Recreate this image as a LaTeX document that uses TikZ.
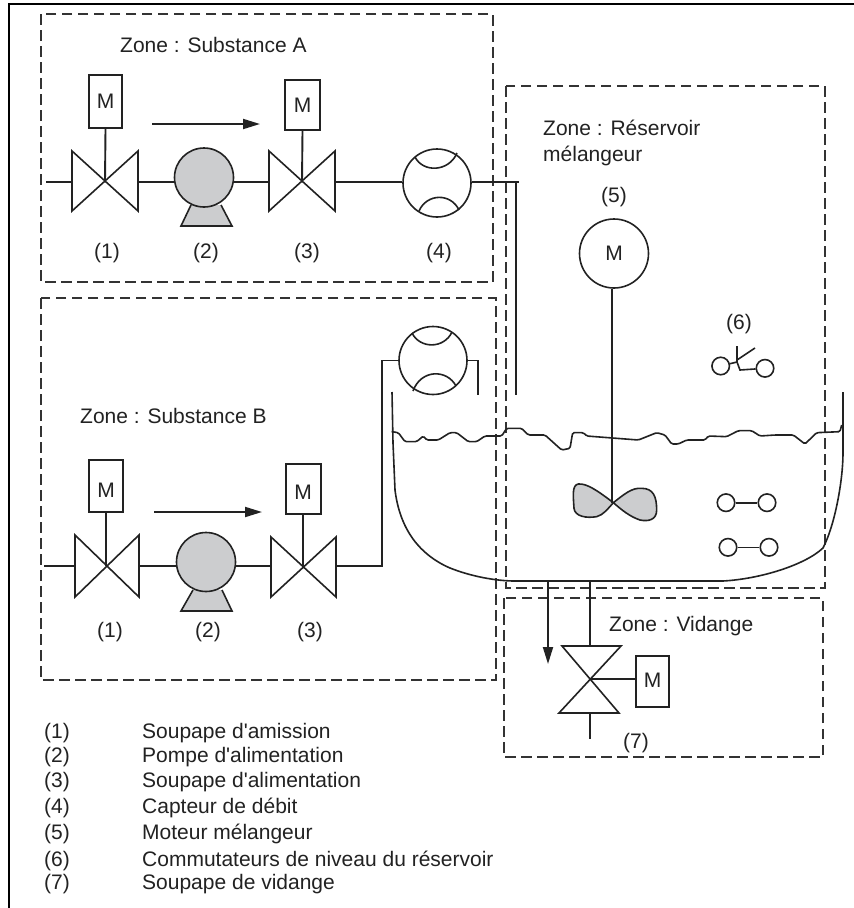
\documentclass[tikz,border=0pt]{standalone}
\usepackage{fontspec}
\setmainfont{Liberation Sans}[Ligatures=TeXOff]
\usetikzlibrary{arrows.meta,calc}
\definecolor{ink}{HTML}{222222}
\definecolor{dashink}{HTML}{333333}
\definecolor{pumpgray}{HTML}{CCCDCF}
\tikzset{
  frame/.style={line width=2.2pt,black},
  zonebox/.style={draw=dashink,line width=2pt,dash pattern=on 10.5pt off 5.5pt},
  pipe/.style={draw=ink,line width=1.9pt},
  valvebody/.style={draw=ink,line width=1.6pt},
  thin line/.style={draw=ink,line width=1.6pt},
  motorbox/.style={draw=ink,line width=2pt,fill=white,rectangle,inner sep=0pt},
  lab/.style={font=\fontsize{21}{24}\selectfont,text=ink,inner sep=0pt,anchor=base},
  labl/.style={lab,anchor=base west},
  pumpbody/.style={draw=ink,line width=1.6pt,fill=pumpgray,circle,inner sep=0pt,minimum size=59pt},
  meter/.style={draw=ink,line width=1.6pt,fill=white,circle,inner sep=0pt,minimum size=68pt},
  contact/.style={draw=ink,line width=1.6pt,fill=white,circle,inner sep=0pt,minimum size=17.5pt},
  flow/.style={draw=ink,line width=1.9pt,-{Triangle[length=17pt,width=10pt]}}
}
\begin{document}
\begin{tikzpicture}[x=1pt,y=-1pt]
\useasboundingbox (0,0) rectangle (854,908);
\fill[white] (0,0) rectangle (854,908);
% frame
\draw[frame] (9,908) -- (9,4) -- (854,4);
% zones
\draw[zonebox] (41,14) rectangle (492.5,282);
\draw[zonebox] (41,298) rectangle (495.5,680);
\draw[zonebox] (506,86) rectangle (824.5,588);
\draw[zonebox] (504,598) rectangle (823,757);
\node[labl] (zA) at (120,52) {Zone : Substance A};
\node[labl] (zB) at (80,423) {Zone : Substance B};
\node[labl] (zR1) at (543,135) {Zone : Réservoir};
\node[labl] (zR2) at (543,161) {mélangeur};
\node[labl] (zV) at (609,631) {Zone : Vidange};

% --- Substance A line
\coordinate (Ain) at (46,182);
\coordinate (Av1) at (105,182);
\coordinate (Av1l) at (72,182);
\coordinate (Av1r) at (138,182);
\coordinate (Av3) at (302,182);
\coordinate (Av3l) at (269,182);
\coordinate (Av3r) at (335,182);
\node[motorbox,minimum width=33pt,minimum height=53pt] (Am1) at (105.5,101.5) {};
\node[lab] (Am1t) at (105.5,108) {M};
\node[motorbox,minimum width=35pt,minimum height=50pt] (Am3) at (302.5,105) {};
\node[lab] (Am3t) at (302.5,112) {M};
\draw[valvebody] (72,151) -- (138,211) -- (138,151) -- (72,211) -- cycle;
\draw[valvebody] (269,151) -- (335,211) -- (335,151) -- (269,211) -- cycle;
\draw[pipe] (Am1.south) -- (Av1);
\draw[pipe] (Am3.south) -- (Av3);
\draw[thin line,fill=pumpgray] (191,205) -- (181,226) -- (232,226) -- (221,205);
\node[pumpbody] (Ap) at (204,177.5) {};
\node[meter] (Afm) at (437,183) {};
\draw[thin line] (415,157) .. controls (423,173) and (449,172) .. (457,153);
\draw[thin line] (419,211) .. controls (427,193) and (451,193) .. (459,210);
\draw[pipe] (Ain) -- (Av1l);
\draw[pipe] (Av1r) -- (Av1r -| Ap.west);
\draw[pipe] (Ap.east |- Av3l) -- (Av3l);
\draw[pipe] (Av3r) -- (Av3r -| Afm.west);
\coordinate (AtoT) at (516,182);
\coordinate (AtoTend) at (516,395);
\coordinate (Astub) at (519,182);
\draw[pipe] (Afm.east |- Av3r) -- (Astub);
\draw[pipe] (AtoT) -- (AtoTend);
\coordinate (Aa0) at (152,124);
\coordinate (Aa1) at (260,124);
\draw[flow] (Aa0) -- (Aa1);
\node[lab] (Al1) at (107,258) {(1)};
\node[lab] (Al2) at (206,258) {(2)};
\node[lab] (Al3) at (307,258) {(3)};
\node[lab] (Al4) at (439,258) {(4)};

% --- Substance B line
\coordinate (Bin) at (44,566);
\coordinate (Bv1) at (106,566);
\coordinate (Bv1l) at (75,566);
\coordinate (Bv1r) at (139,566);
\coordinate (Bv3) at (303,566);
\coordinate (Bv3l) at (271,566);
\coordinate (Bv3r) at (336,566);
\node[motorbox,minimum width=34pt,minimum height=52pt] (Bm1) at (106,486) {};
\node[lab] (Bm1t) at (106,497) {M};
\node[motorbox,minimum width=35pt,minimum height=50pt] (Bm3) at (303,489) {};
\node[lab] (Bm3t) at (303,499) {M};
\draw[valvebody] (75,535) -- (139,597) -- (139,535) -- (75,597) -- cycle;
\draw[valvebody] (271,537) -- (336,597) -- (336,537) -- (271,597) -- cycle;
\draw[pipe] (Bm1.south) -- (Bv1);
\draw[pipe] (Bm3.south) -- (Bv3);
\draw[thin line,fill=pumpgray] (193,590) -- (181,611) -- (232,611) -- (222,590);
\node[pumpbody] (Bp) at (206,562) {};
\node[meter] (Bfm) at (433,360.5) {};
\draw[thin line] (412,333) .. controls (420,349) and (444,349) .. (452,332);
\draw[thin line] (413,391) .. controls (421,369) and (447,369) .. (456,386);
\draw[pipe] (Bin) -- (Bv1l);
\draw[pipe] (Bv1r) -- (Bv1r -| Bp.west);
\draw[pipe] (Bp.east |- Bv3l) -- (Bv3l);
\coordinate (Bup) at (382,566);
\coordinate (Bend) at (478,395);
\draw[pipe] (Bv3r) -- (Bup) |- (Bfm.west);
\draw[pipe] (Bfm.east) -| (Bend);
\coordinate (Ba0) at (154,512);
\coordinate (Ba1) at (262,512);
\draw[flow] (Ba0) -- (Ba1);
\node[lab] (Bl1) at (110,637) {(1)};
\node[lab] (Bl2) at (208,637) {(2)};
\node[lab] (Bl3) at (310,637) {(3)};

% --- Tank
\draw[thin line] (392,392) -- (393,443) -- (395,490) .. controls (400,530) and (420,555) .. (450,568) .. controls (470,576) and (495,581) .. (515,581) -- (723,581) .. controls (760,579) and (805,565) .. (823,548) .. controls (835,525) and (843,480) .. (843,453) -- (843,392);
\begin{scope}[shift={(370,300)},x=0.33333pt,y=-0.33333pt]
\draw[thin line,rounded corners=1.5pt] (65,395) -- (85,398) -- (105,425) -- (140,425) -- (160,408) -- (170,420) -- (205,420) -- (240,398) -- (260,398) -- (295,425) -- (320,425) -- (345,408) -- (395,408) -- (410,385) -- (455,385) -- (475,405) -- (525,405) -- (575,450) -- (600,445) -- (608,398) -- (640,398) -- (650,408) -- (805,420) -- (860,398) -- (885,405) -- (905,432) -- (925,432) -- (950,420) -- (1005,420) -- (1015,408) -- (1070,410) -- (1105,392) -- (1145,392) -- (1170,408) -- (1215,405) -- (1270,405) -- (1305,432) -- (1340,398) -- (1410,395) -- (1415,375);
\draw[thin line,fill=pumpgray] (730,608) .. controls (680,570) and (650,550) .. (625,552) .. controls (605,555) and (610,590) .. (612,625) .. controls (615,650) and (650,655) .. (680,650) .. controls (700,645) and (715,625) .. (730,608) -- cycle;
\draw[thin line,fill=pumpgray] (730,608) .. controls (760,585) and (785,562) .. (815,565) .. controls (850,565) and (860,590) .. (860,630) .. controls (860,660) and (835,665) .. (810,660) .. controls (780,650) and (755,630) .. (730,608) -- cycle;
\end{scope}
% mixer
\node[lab] (m5) at (614,202) {(5)};
\node[draw=ink,line width=1.6pt,fill=white,circle,inner sep=0pt,minimum size=69pt] (Mmot) at (614,253.5) {};
\node[lab] (Mmott) at (614,260.5) {M};
\coordinate (Mhub) at (612,503);
\draw[pipe] (Mmot.south -| Mhub) -- (Mhub);
% switch 6
\node[lab] (l6) at (739,329) {(6)};
\node[contact] (s6a) at (720.7,366) {};
\node[contact] (s6b) at (765,368.3) {};
\coordinate (s6j) at (737,362);
\coordinate (s6top) at (737,346);
\coordinate (s6arm) at (755,348);
\coordinate (s6low) at (740,370);
\draw[thin line] (s6a) -- (s6j);
\draw[thin line] (s6top) -- (s6j) -- (s6low) -- (s6b);
\draw[thin line] (737,360) -- (s6arm);
% level switches
\node[contact] (s1a) at (726,502.7) {};
\node[contact] (s1b) at (767,502.7) {};
\draw[thin line] (s1a) -- (s1b);
\node[contact] (s2a) at (728,547.3) {};
\node[contact] (s2b) at (769,547.3) {};
\draw[thin line] (s2a) -- (s2b);

% --- Drain
\coordinate (Dv) at (591,679);
\coordinate (Dtop) at (590,646);
\coordinate (Dt0) at (590,581);
\coordinate (Dbot) at (590,713);
\coordinate (Dout) at (590,739);
\coordinate (Da0) at (548,581);
\coordinate (Da1) at (548,664);
\draw[pipe] (Dt0) -- (Dtop);
\draw[flow] (Da0) -- (Da1);
\draw[valvebody] (562,646) -- (621,646) -- (559,713) -- (619,713) -- cycle;
\draw[pipe] (Dbot) -- (Dout);
\node[motorbox,minimum width=33pt,minimum height=51pt] (Dm) at (652.5,681.5) {};
\node[lab] (Dmt) at (652.5,687) {M};
\draw[pipe] (Dv) -- (Dm.west |- Dv);
\node[lab] (l7) at (636,748) {(7)};

% --- Legend
\foreach \n/\t/\y in {1/Soupape d'amission/738,2/Pompe d'alimentation/762,3/Soupape d'alimentation/787,4/Capteur de débit/813,5/Moteur mélangeur/839,6/Commutateurs de niveau du réservoir/866,7/Soupape de vidange/889}{
  \node[lab] (kn\n) at (57,\y) {(\n)};
  \node[labl] (kt\n) at (142,\y) {\t};
}
\end{tikzpicture}
\end{document}
